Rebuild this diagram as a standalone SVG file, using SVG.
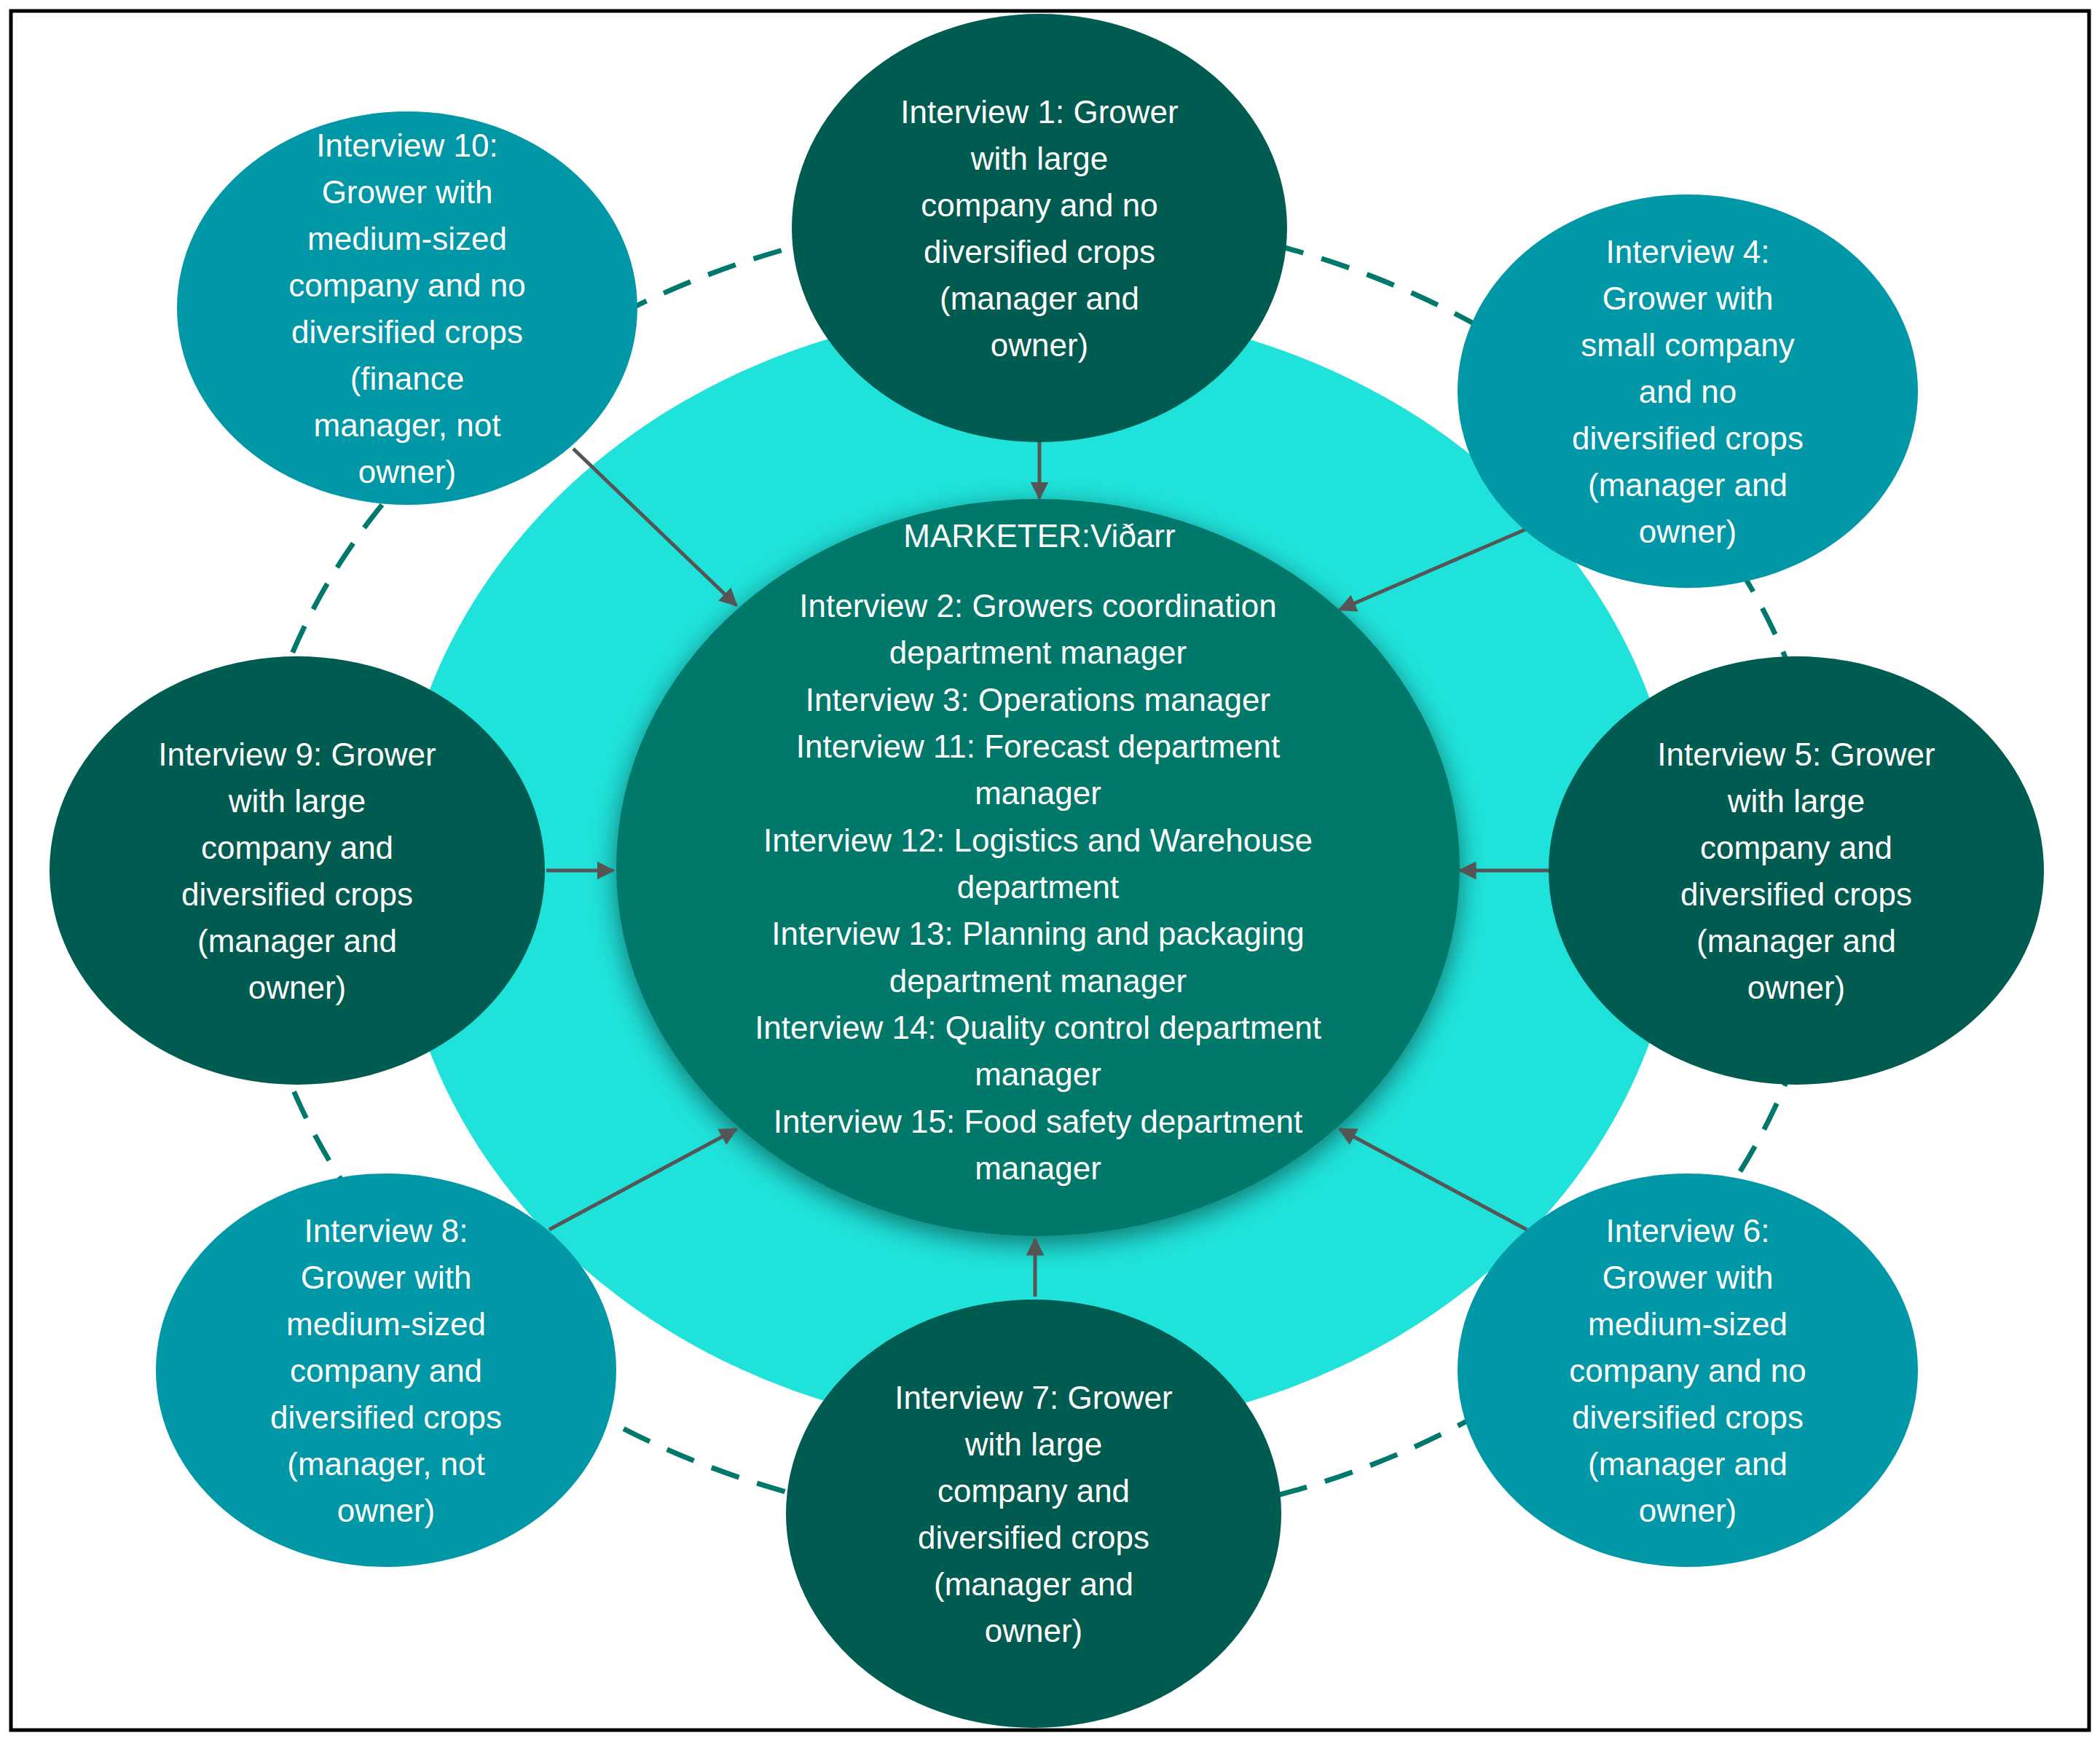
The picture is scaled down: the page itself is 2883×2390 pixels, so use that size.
<svg xmlns="http://www.w3.org/2000/svg" width="2883" height="2390" viewBox="0 0 2883 2390">
<defs>
<style>
text{font-family:"Liberation Sans",Arial,sans-serif;font-size:44px;fill:#fff;text-anchor:middle;dominant-baseline:central}
.dark{fill:#005b50}.teal{fill:#0097a7}
.arr{stroke:#555;stroke-width:5;fill:none;marker-end:url(#ah)}
</style>
<marker id="ah" viewBox="0 0 10 10" refX="9" refY="5" markerWidth="5" markerHeight="5" orient="auto"><path d="M0,0L10,5L0,10z" fill="#555"/></marker>
<filter id="sh" x="-20%" y="-20%" width="140%" height="140%"><feGaussianBlur in="SourceAlpha" stdDeviation="18"/><feOffset dx="0" dy="10"/><feComponentTransfer><feFuncA type="linear" slope="0.5"/></feComponentTransfer><feMerge><feMergeNode/><feMergeNode in="SourceGraphic"/></feMerge></filter>
</defs>
<rect x="0" y="0" width="2883" height="2390" fill="#fff"/>
<rect x="15" y="15" width="2853" height="2360" fill="none" stroke="#000" stroke-width="5"/>
<g id="background">
<ellipse cx="1425" cy="1195" rx="882" ry="772" fill="#1fe3da"/>
<ellipse cx="1425" cy="1195" rx="1085" ry="900" fill="none" stroke="#00786b" stroke-width="7" stroke-dasharray="40 26"/>
</g>
<g id="center">
<ellipse cx="1425" cy="1191" rx="579" ry="506" fill="#00786b" filter="url(#sh)"/>
<text x="1427" y="735">MARKETER:Viðarr</text>
<text x="1425" y="831">Interview 2: Growers coordination</text>
<text x="1425" y="895">department manager</text>
<text x="1425" y="960">Interview 3: Operations manager</text>
<text x="1425" y="1024">Interview 11: Forecast department</text>
<text x="1425" y="1088">manager</text>
<text x="1425" y="1153">Interview 12: Logistics and Warehouse</text>
<text x="1425" y="1217">department</text>
<text x="1425" y="1281">Interview 13: Planning and packaging</text>
<text x="1425" y="1346">department manager</text>
<text x="1425" y="1410">Interview 14: Quality control department</text>
<text x="1425" y="1474">manager</text>
<text x="1425" y="1539">Interview 15: Food safety department</text>
<text x="1425" y="1603">manager</text>
</g>
<g id="connectors">
<line class="arr" x1="1427" y1="518" x2="1427" y2="684"/>
<line class="arr" x1="787" y1="616" x2="1011" y2="831"/>
<line class="arr" x1="2096" y1="726" x2="1839" y2="837"/>
<line class="arr" x1="750" y1="1195" x2="842" y2="1195"/>
<line class="arr" x1="2127" y1="1195" x2="2004" y2="1195"/>
<line class="arr" x1="754" y1="1688" x2="1011" y2="1550"/>
<line class="arr" x1="2096" y1="1688" x2="1839" y2="1550"/>
<line class="arr" x1="1421" y1="1780" x2="1421" y2="1701"/>
</g>
<g id="n1"><ellipse class="dark" cx="1427" cy="313" rx="340" ry="294"/>
<text x="1427" y="153">Interview 1: Grower</text><text x="1427" y="217">with large</text><text x="1427" y="281">company and no</text><text x="1427" y="345">diversified crops</text><text x="1427" y="409">(manager and</text><text x="1427" y="473">owner)</text></g>
<g id="n4"><ellipse class="teal" cx="2317" cy="537" rx="316" ry="270"/>
<text x="2317" y="345">Interview 4:</text><text x="2317" y="409">Grower with</text><text x="2317" y="473">small company</text><text x="2317" y="537">and no</text><text x="2317" y="601">diversified crops</text><text x="2317" y="665">(manager and</text><text x="2317" y="729">owner)</text></g>
<g id="n5"><ellipse class="dark" cx="2466" cy="1195" rx="340" ry="294"/>
<text x="2466" y="1035">Interview 5: Grower</text><text x="2466" y="1099">with large</text><text x="2466" y="1163">company and</text><text x="2466" y="1227">diversified crops</text><text x="2466" y="1291">(manager and</text><text x="2466" y="1355">owner)</text></g>
<g id="n6"><ellipse class="teal" cx="2317" cy="1881" rx="316" ry="270"/>
<text x="2317" y="1689">Interview 6:</text><text x="2317" y="1753">Grower with</text><text x="2317" y="1817">medium-sized</text><text x="2317" y="1881">company and no</text><text x="2317" y="1945">diversified crops</text><text x="2317" y="2009">(manager and</text><text x="2317" y="2073">owner)</text></g>
<g id="n7"><ellipse class="dark" cx="1419" cy="2078" rx="340" ry="294"/>
<text x="1419" y="1918">Interview 7: Grower</text><text x="1419" y="1982">with large</text><text x="1419" y="2046">company and</text><text x="1419" y="2110">diversified crops</text><text x="1419" y="2174">(manager and</text><text x="1419" y="2238">owner)</text></g>
<g id="n8"><ellipse class="teal" cx="530" cy="1881" rx="316" ry="270"/>
<text x="530" y="1689">Interview 8:</text><text x="530" y="1753">Grower with</text><text x="530" y="1817">medium-sized</text><text x="530" y="1881">company and</text><text x="530" y="1945">diversified crops</text><text x="530" y="2009">(manager, not</text><text x="530" y="2073">owner)</text></g>
<g id="n9"><ellipse class="dark" cx="408" cy="1195" rx="340" ry="294"/>
<text x="408" y="1035">Interview 9: Grower</text><text x="408" y="1099">with large</text><text x="408" y="1163">company and</text><text x="408" y="1227">diversified crops</text><text x="408" y="1291">(manager and</text><text x="408" y="1355">owner)</text></g>
<g id="n10"><ellipse class="teal" cx="559" cy="423" rx="316" ry="270"/>
<text x="559" y="199">Interview 10:</text><text x="559" y="263">Grower with</text><text x="559" y="327">medium-sized</text><text x="559" y="391">company and no</text><text x="559" y="455">diversified crops</text><text x="559" y="519">(finance</text><text x="559" y="583">manager, not</text><text x="559" y="647">owner)</text></g>
</svg>
